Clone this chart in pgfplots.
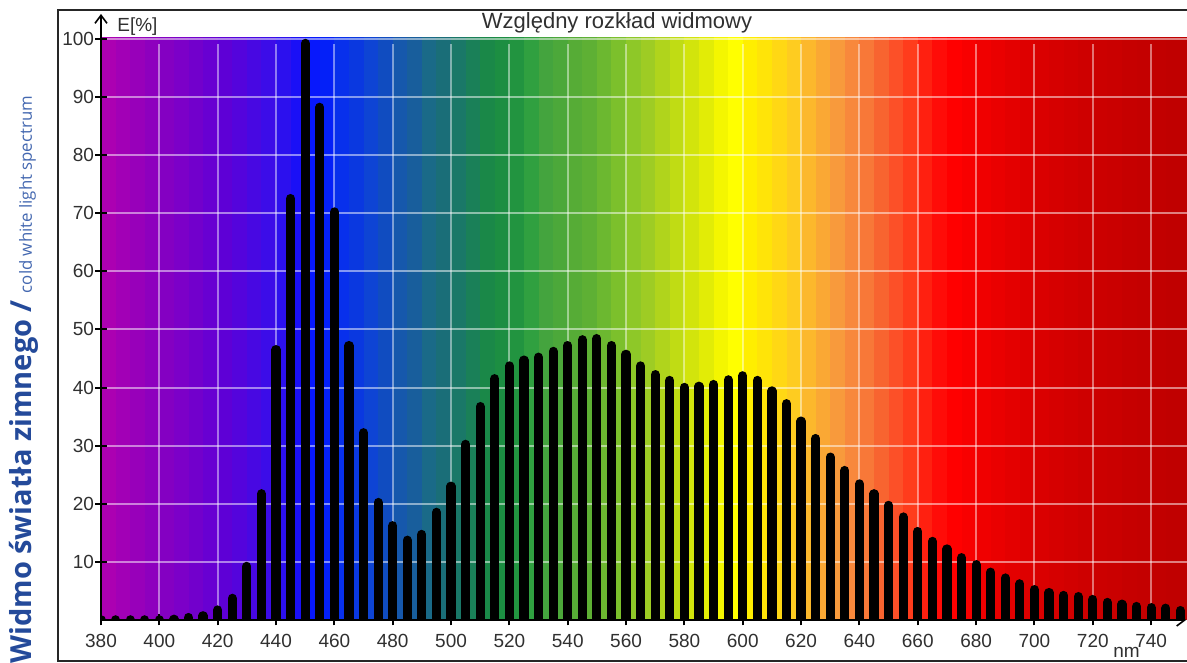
\documentclass[border=0pt]{standalone}
\usepackage{pgfplots}
\pgfplotsset{compat=1.18}
\usepackage{pgfplotstable}
\usepackage{fontspec}
\setmainfont{Liberation Sans}
\newfontfamily\opensans{Open Sans}
\usetikzlibrary{arrows.meta}

\definecolor{ticktext}{HTML}{303030}
\definecolor{tbold}{HTML}{244A9A}
\definecolor{tlight}{HTML}{4468B0}

\def\bandlist{380/AC00B2,385/A200B6,390/9800BA,395/8E00BE,400/8400C2,405/7C00C8,410/7200CC,415/6800D2,
420/5E00D6,425/5404DC,430/4808E2,435/3C0CE8,440/2C10EE,445/1A10F6,450/0818FC,455/0420F8,460/0830EC,
465/0A38E0,470/0E44D4,475/104CC0,480/1658AC,485/185E9C,490/1A6A88,495/1A6E78,500/1A7868,505/1A8058,
510/1A8848,515/1C8E42,520/229440,525/30A040,530/44A43E,535/4CA83A,540/56AC36,545/5EB034,550/6CB830,
555/7CC02C,560/8EC828,565/9ECC24,570/B0D41C,575/C0DC14,580/D2E40C,585/E2EC06,590/F4F600,595/FFFF00,
600/FFEE00,605/FFE408,610/FFD814,615/FECC20,620/FCB82C,625/FAA834,630/F89A3C,635/F8883C,640/F87838,
645/F86430,650/FC5028,655/FF3C1C,660/FF2010,665/FF0C08,670/FF0000,675/F80000,680/F00000,685/EA0000,
690/E40000,695/DE0000,700/DA0000,705/D60000,710/D20000,715/CE0000,720/CC0000,725/CA0000,730/C60000,
735/C40000,740/C20000,745/C00000,750/BE0000}
\foreach \b/\c in \bandlist {\edef\tmp{\noexpand\xglobal\noexpand\definecolor{band\b}{HTML}{\c}}\tmp}

\pgfplotstableread{
nm E
380 0.8
385 0.8
390 0.8
395 0.8
400 0.8
405 0.9
410 1.2
415 1.5
420 2.5
425 4.5
430 10
435 22.5
440 47.3
445 73.3
450 100
455 89
460 71
465 48
470 33
475 21
480 17
485 14.5
490 15.5
495 19.3
500 23.8
505 31
510 37.5
515 42.3
520 44.5
525 45.5
530 46
535 47
540 48
545 49
550 49.2
555 48
560 46.5
565 44.5
570 43
575 42
580 40.8
585 41
590 41.3
595 42.1
600 42.8
605 42
610 40.2
615 38
620 35
625 32
630 28.8
635 26.5
640 24.2
645 22.5
650 20.5
655 18.5
660 16
665 14.3
670 13
675 11.5
680 10.3
685 9
690 8
695 7
700 6
705 5.5
710 5
715 4.8
720 4.3
725 3.8
730 3.5
735 3.1
740 2.9
745 2.8
750 2.4
}\spd

\begin{document}
\begin{tikzpicture}
\begin{axis}[
  name=ax, at={(0,0)}, anchor=south west,
  scale only axis, width=543pt, height=291.7pt,
  xmin=380, xmax=752.3, ymin=0, ymax=100.4,
  axis on top,
  axis line style={draw=none},
  xtick={380,400,...,740}, ytick={10,20,...,100},
  xtick pos=bottom, ytick pos=left,
  tick align=center,
  major tick length=5.5pt,
  tick style={black, line width=1pt},
  ticklabel style={font=\fontsize{9.5}{10}\selectfont, text=ticktext},
  /pgf/number format/assume math mode=true,
  xticklabel style={yshift=-1pt},
  yticklabel style={xshift=2.8pt},
]
\pgfplotsinvokeforeach{380,385,...,750}{
  \fill[band#1] (axis cs:#1,0) rectangle ([xshift=7.6pt]axis cs:#1,100.4);
}
\pgfplotsinvokeforeach{400,420,...,740}{
  \draw[white, opacity=0.45, line width=1pt] (axis cs:#1,0) -- (axis cs:#1,99.2);
}
\pgfplotsinvokeforeach{10,20,...,100}{
  \draw[white, opacity=0.5, line width=1pt] (axis cs:380,#1) -- (axis cs:752.3,#1);
}
\addplot[ycomb, black, line width=4.6pt, line cap=round] table[x=nm, y expr=\thisrow{E}-0.77] {\spd};
\end{axis}
\draw[line width=0.8pt, -{Straight Barb[length=4pt,width=6pt]}] (ax.south west) -- ([yshift=11.3pt]ax.north west);
\draw[line width=0.8pt, -{Straight Barb[length=4pt,width=6pt]}] (ax.south west) -- ([xshift=-0.5pt]ax.south east);
\node[anchor=base, font=\fontsize{11}{12}\selectfont, text=ticktext, inner sep=0] at (258pt,295.5pt) {Względny rozkład widmowy};
\node[anchor=base west, font=\fontsize{9.5}{10}\selectfont, text=ticktext, inner sep=0] at (8pt,294pt) {E[\%]};
\node[anchor=base west, font=\fontsize{9.5}{10}\selectfont, text=ticktext, inner sep=0] at (506pt,-19pt) {nm};
\draw[line width=1pt, black!85] (600pt,305pt) -- (-21.5pt,305pt) -- (-21.5pt,-20.5pt) -- (600pt,-20.5pt);
\node[rotate=90, anchor=base west, inner sep=0] at (-34.5pt,-22pt)
  {\opensans\fontsize{14.5}{15}\selectfont\bfseries\color{tbold}Widmo światła zimnego /\hspace{3.5pt}\fontsize{8.4}{10}\selectfont\mdseries\color{tlight}cold white light spectrum};
\pgfresetboundingbox
\path[use as bounding box] (-50.5pt,-21.5pt) rectangle (543pt,310pt);
\end{tikzpicture}
\end{document}
